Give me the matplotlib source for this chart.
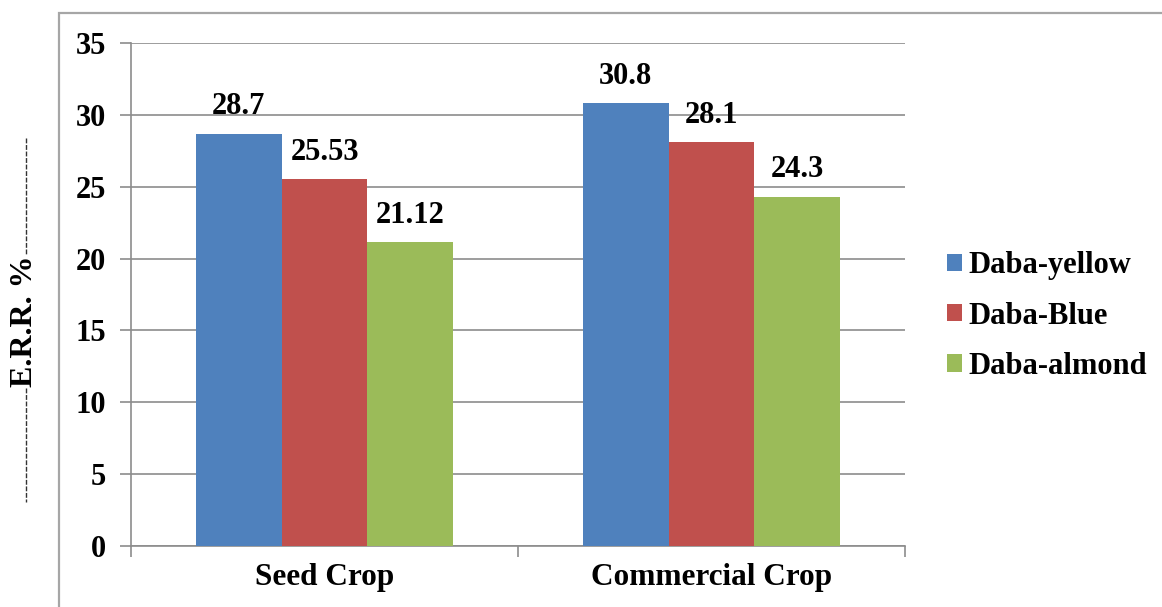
import matplotlib
matplotlib.use("Agg")
import matplotlib.pyplot as plt
from matplotlib.lines import Line2D
from matplotlib.patches import Rectangle
import numpy as np

categories = ["Seed Crop", "Commercial Crop"]
series_names = ["Daba-yellow", "Daba-Blue", "Daba-almond"]
daba_yellow = [28.7, 30.8]
daba_blue = [25.53, 28.1]
daba_almond = [21.12, 24.3]
label_texts = [["28.7", "30.8"], ["25.53", "28.1"], ["21.12", "24.3"]]
yticks = [0, 5, 10, 15, 20, 25, 30, 35]
colors = ["#4F81BD", "#C0504D", "#9BBB59"]

plt.rcParams["font.family"] = ["Liberation Serif", "DejaVu Serif"]
plt.rcParams["font.weight"] = "bold"

W, H = 1162, 607
fig = plt.figure(figsize=(W / 100, H / 100), dpi=100)
ax = fig.add_axes([131 / W, 1 - 546 / H, (905 - 131) / W, (546 - 43) / H])

# outer chart-area border (cropped on right and bottom)
fig.add_artist(Rectangle((59 / W, -0.05), 1.2, 1 - 13 / H + 0.05, transform=fig.transFigure,
                         fill=False, edgecolor="#a6a6a6", linewidth=1.6, zorder=0))

x = np.arange(len(categories))
bw = 0.2222
vals = [daba_yellow, daba_blue, daba_almond]
for i, (name, v, c) in enumerate(zip(series_names, vals, colors)):
    pos = x + (i - 1) * bw
    ax.bar(pos, v, width=bw, color=c, label=name, zorder=3)
    for p, val, t in zip(pos, v, label_texts[i]):
        ax.annotate(t, (p, val), xytext=(0, 14), textcoords="offset points",
                    ha="center", va="baseline", fontsize=22, fontweight="bold", zorder=4)

ax.set_xlim(-0.5, 1.5)
ax.set_ylim(0, 35)
ax.set_yticks(yticks)
ax.set_yticklabels([str(t) for t in yticks], fontsize=22, fontweight="bold")
ax.yaxis.grid(True, color="#8c8c8c", linewidth=1.2, zorder=0)
ax.set_axisbelow(True)

# category labels, with divider ticks
ax.set_xticks([-0.5, 0.5, 1.5])
ax.set_xticklabels([])
ax.set_xticks(x, minor=True)
ax.set_xticklabels(categories, minor=True, fontsize=22.5, fontweight="bold")
ax.tick_params(axis="x", which="minor", length=0, pad=12)
ax.tick_params(axis="x", which="major", length=8, width=1.2, color="#8c8c8c", direction="out")
ax.tick_params(axis="y", length=8, width=1.2, color="#8c8c8c", direction="out", pad=10)

for s in ["top", "right"]:
    ax.spines[s].set_visible(False)
for s in ["left", "bottom"]:
    ax.spines[s].set_color("#8c8c8c")
    ax.spines[s].set_linewidth(1.2)

# y axis title with dashed leaders
fig.text(24 / W, 1 - 321 / H, "E.R.R. %", rotation=90, ha="center", va="center",
         fontsize=23, fontweight="bold")
fig.add_artist(Line2D([26 / W, 26 / W], [1 - 138 / H, 1 - 254 / H], transform=fig.transFigure,
                      color="#333333", linewidth=1.0, linestyle=(0, (3.5, 1.2))))
fig.add_artist(Line2D([26 / W, 26 / W], [1 - 388 / H, 1 - 502 / H], transform=fig.transFigure,
                      color="#333333", linewidth=1.0, linestyle=(0, (3.5, 1.2))))

leg = ax.legend(loc="center left", bbox_to_anchor=(947 / W, 1 - 316 / H),
                bbox_transform=fig.transFigure, frameon=False, fontsize=22,
                handlelength=0.5, handleheight=0.5, handletextpad=0.2,
                labelspacing=0.7, borderpad=0, borderaxespad=0)
for t in leg.get_texts():
    t.set_fontweight("bold")

fig.savefig("out.png", dpi=100)
